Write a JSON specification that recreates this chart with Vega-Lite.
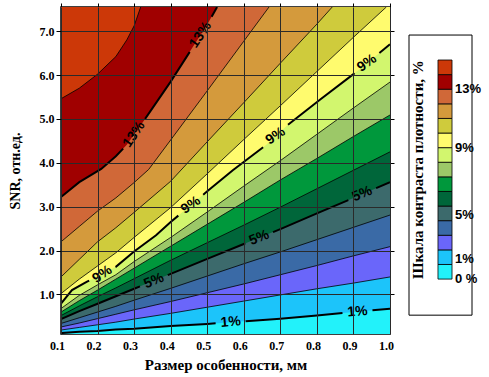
{
"$schema":"https://vega.github.io/schema/vega-lite/v6.json",
"padding":{"left":7,"top":1,"right":0,"bottom":0},
"background":"white",
"spacing":12,
"datasets":{
"contours":[
{"level":0,"x":0.1,"y":0.1},{"level":0,"x":1.0,"y":0.1},
{"level":1,"x":0.1,"y":0.12},{"level":1,"x":0.15,"y":0.15},{"level":1,"x":0.2,"y":0.17},{"level":1,"x":0.25,"y":0.2},{"level":1,"x":0.3,"y":0.22},{"level":1,"x":0.4,"y":0.28},{"level":1,"x":0.5,"y":0.33},{"level":1,"x":0.6,"y":0.39},{"level":1,"x":0.7,"y":0.45},{"level":1,"x":0.8,"y":0.52},{"level":1,"x":0.9,"y":0.6},{"level":1,"x":1.0,"y":0.675},
{"level":2,"x":0.1,"y":0.19},{"level":2,"x":0.15,"y":0.25},{"level":2,"x":0.2,"y":0.31},{"level":2,"x":0.25,"y":0.37},{"level":2,"x":0.3,"y":0.44},{"level":2,"x":0.4,"y":0.57},{"level":2,"x":0.5,"y":0.71},{"level":2,"x":0.6,"y":0.85},{"level":2,"x":0.7,"y":0.99},{"level":2,"x":0.8,"y":1.13},{"level":2,"x":0.9,"y":1.26},{"level":2,"x":1.0,"y":1.4},
{"level":3,"x":0.1,"y":0.26},{"level":3,"x":0.15,"y":0.35},{"level":3,"x":0.2,"y":0.45},{"level":3,"x":0.25,"y":0.55},{"level":3,"x":0.3,"y":0.65},{"level":3,"x":0.4,"y":0.84},{"level":3,"x":0.5,"y":1.04},{"level":3,"x":0.6,"y":1.24},{"level":3,"x":0.7,"y":1.45},{"level":3,"x":0.8,"y":1.66},{"level":3,"x":0.9,"y":1.88},{"level":3,"x":1.0,"y":2.09},
{"level":4,"x":0.1,"y":0.34},{"level":4,"x":0.15,"y":0.47},{"level":4,"x":0.2,"y":0.6},{"level":4,"x":0.25,"y":0.73},{"level":4,"x":0.3,"y":0.87},{"level":4,"x":0.4,"y":1.14},{"level":4,"x":0.5,"y":1.42},{"level":4,"x":0.6,"y":1.7},{"level":4,"x":0.7,"y":1.97},{"level":4,"x":0.8,"y":2.25},{"level":4,"x":0.9,"y":2.53},{"level":4,"x":1.0,"y":2.81},
{"level":5,"x":0.1,"y":0.44},{"level":5,"x":0.15,"y":0.62},{"level":5,"x":0.2,"y":0.79},{"level":5,"x":0.25,"y":0.96},{"level":5,"x":0.3,"y":1.13},{"level":5,"x":0.4,"y":1.47},{"level":5,"x":0.5,"y":1.81},{"level":5,"x":0.6,"y":2.15},{"level":5,"x":0.7,"y":2.49},{"level":5,"x":0.8,"y":2.85},{"level":5,"x":0.9,"y":3.2},{"level":5,"x":1.0,"y":3.56},
{"level":6,"x":0.1,"y":0.52},{"level":6,"x":0.15,"y":0.74},{"level":6,"x":0.2,"y":0.95},{"level":6,"x":0.25,"y":1.15},{"level":6,"x":0.3,"y":1.36},{"level":6,"x":0.4,"y":1.78},{"level":6,"x":0.5,"y":2.18},{"level":6,"x":0.6,"y":2.58},{"level":6,"x":0.7,"y":2.99},{"level":6,"x":0.8,"y":3.41},{"level":6,"x":0.9,"y":3.83},{"level":6,"x":1.0,"y":4.25},
{"level":7,"x":0.1,"y":0.6},{"level":7,"x":0.15,"y":0.86},{"level":7,"x":0.2,"y":1.1},{"level":7,"x":0.25,"y":1.35},{"level":7,"x":0.3,"y":1.6},{"level":7,"x":0.4,"y":2.1},{"level":7,"x":0.5,"y":2.6},{"level":7,"x":0.6,"y":3.1},{"level":7,"x":0.7,"y":3.61},{"level":7,"x":0.8,"y":4.1},{"level":7,"x":0.9,"y":4.6},{"level":7,"x":1.0,"y":5.09},
{"level":8,"x":0.1,"y":0.68},{"level":8,"x":0.15,"y":0.98},{"level":8,"x":0.2,"y":1.22},{"level":8,"x":0.25,"y":1.45},{"level":8,"x":0.3,"y":1.75},{"level":8,"x":0.4,"y":2.3},{"level":8,"x":0.5,"y":2.88},{"level":8,"x":0.6,"y":3.47},{"level":8,"x":0.7,"y":4.05},{"level":8,"x":0.8,"y":4.65},{"level":8,"x":0.9,"y":5.25},{"level":8,"x":1.0,"y":5.84},
{"level":9,"x":0.1,"y":0.79},{"level":9,"x":0.13,"y":1.1},{"level":9,"x":0.17,"y":1.29},{"level":9,"x":0.21,"y":1.45},{"level":9,"x":0.25,"y":1.63},{"level":9,"x":0.3,"y":1.98},{"level":9,"x":0.36,"y":2.35},{"level":9,"x":0.4,"y":2.65},{"level":9,"x":0.5,"y":3.35},{"level":9,"x":0.57,"y":3.83},{"level":9,"x":0.66,"y":4.4},{"level":9,"x":0.72,"y":4.86},{"level":9,"x":0.81,"y":5.45},{"level":9,"x":0.9,"y":6.02},{"level":9,"x":1.0,"y":6.7},
{"level":10,"x":0.1,"y":1.02},{"level":10,"x":0.15,"y":1.35},{"level":10,"x":0.2,"y":1.65},{"level":10,"x":0.25,"y":1.95},{"level":10,"x":0.3,"y":2.3},{"level":10,"x":0.4,"y":2.98},{"level":10,"x":0.5,"y":3.75},{"level":10,"x":0.6,"y":4.53},{"level":10,"x":0.7,"y":5.3},{"level":10,"x":0.8,"y":6.08},{"level":10,"x":0.9,"y":6.86},{"level":10,"x":0.99,"y":7.55},
{"level":11,"x":0.1,"y":1.4},{"level":11,"x":0.15,"y":1.8},{"level":11,"x":0.2,"y":2.2},{"level":11,"x":0.25,"y":2.52},{"level":11,"x":0.3,"y":2.87},{"level":11,"x":0.4,"y":3.58},{"level":11,"x":0.5,"y":4.48},{"level":11,"x":0.6,"y":5.37},{"level":11,"x":0.7,"y":6.27},{"level":11,"x":0.8,"y":7.16},{"level":11,"x":0.842,"y":7.55},
{"level":12,"x":0.1,"y":2.2},{"level":12,"x":0.15,"y":2.55},{"level":12,"x":0.2,"y":2.9},{"level":12,"x":0.25,"y":3.2},{"level":12,"x":0.3,"y":3.55},{"level":12,"x":0.34,"y":3.85},{"level":12,"x":0.4,"y":4.52},{"level":12,"x":0.5,"y":5.64},{"level":12,"x":0.6,"y":6.77},{"level":12,"x":0.669,"y":7.55},
{"level":13,"x":0.1,"y":3.22},{"level":13,"x":0.15,"y":3.56},{"level":13,"x":0.21,"y":3.86},{"level":13,"x":0.25,"y":4.15},{"level":13,"x":0.28,"y":4.41},{"level":13,"x":0.33,"y":5.0},{"level":13,"x":0.4,"y":5.85},{"level":13,"x":0.45,"y":6.5},{"level":13,"x":0.5,"y":7.15},{"level":13,"x":0.527,"y":7.55},
{"level":14,"x":0.1,"y":5.46},{"level":14,"x":0.15,"y":5.7},{"level":14,"x":0.2,"y":6.02},{"level":14,"x":0.25,"y":6.42},{"level":14,"x":0.28,"y":6.8},{"level":14,"x":0.3,"y":7.12},{"level":14,"x":0.318,"y":7.55}
],
"majors":[
{"level":1,"seg":1,"x":0.1,"y":0.12},{"level":1,"seg":1,"x":0.15,"y":0.15},{"level":1,"seg":1,"x":0.2,"y":0.17},{"level":1,"seg":1,"x":0.25,"y":0.2},{"level":1,"seg":1,"x":0.3,"y":0.22},{"level":1,"seg":1,"x":0.4,"y":0.28},{"level":1,"seg":1,"x":0.5,"y":0.33},{"level":1,"seg":1,"x":0.523,"y":0.344},
{"level":1,"seg":2,"x":0.605,"y":0.393},{"level":1,"seg":2,"x":0.7,"y":0.45},{"level":1,"seg":2,"x":0.8,"y":0.52},{"level":1,"seg":2,"x":0.87,"y":0.576},
{"level":1,"seg":3,"x":0.952,"y":0.639},{"level":1,"seg":3,"x":1.0,"y":0.675},
{"level":5,"seg":1,"x":0.1,"y":0.44},{"level":5,"seg":1,"x":0.15,"y":0.62},{"level":5,"seg":1,"x":0.2,"y":0.79},{"level":5,"seg":1,"x":0.25,"y":0.96},{"level":5,"seg":1,"x":0.3,"y":1.13},{"level":5,"seg":1,"x":0.316,"y":1.184},
{"level":5,"seg":2,"x":0.392,"y":1.443},{"level":5,"seg":2,"x":0.4,"y":1.47},{"level":5,"seg":2,"x":0.5,"y":1.81},{"level":5,"seg":2,"x":0.6,"y":2.15},{"level":5,"seg":2,"x":0.604,"y":2.164},
{"level":5,"seg":3,"x":0.68,"y":2.422},{"level":5,"seg":3,"x":0.7,"y":2.49},{"level":5,"seg":3,"x":0.8,"y":2.85},{"level":5,"seg":3,"x":0.886,"y":3.151},
{"level":5,"seg":4,"x":0.962,"y":3.423},{"level":5,"seg":4,"x":1.0,"y":3.56},
{"level":9,"seg":1,"x":0.1,"y":0.79},{"level":9,"seg":1,"x":0.13,"y":1.1},{"level":9,"seg":1,"x":0.17,"y":1.29},{"level":9,"seg":1,"x":0.177,"y":1.318},
{"level":9,"seg":2,"x":0.249,"y":1.626},{"level":9,"seg":2,"x":0.25,"y":1.63},{"level":9,"seg":2,"x":0.3,"y":1.98},{"level":9,"seg":2,"x":0.36,"y":2.35},{"level":9,"seg":2,"x":0.4,"y":2.65},{"level":9,"seg":2,"x":0.421,"y":2.797},
{"level":9,"seg":3,"x":0.489,"y":3.273},{"level":9,"seg":3,"x":0.5,"y":3.35},{"level":9,"seg":3,"x":0.57,"y":3.83},{"level":9,"seg":3,"x":0.653,"y":4.356},
{"level":9,"seg":4,"x":0.721,"y":4.867},{"level":9,"seg":4,"x":0.81,"y":5.45},{"level":9,"seg":4,"x":0.9,"y":6.02},{"level":9,"seg":4,"x":0.903,"y":6.04},
{"level":9,"seg":5,"x":0.971,"y":6.503},{"level":9,"seg":5,"x":1.0,"y":6.7},
{"level":13,"seg":1,"x":0.1,"y":3.22},{"level":13,"seg":1,"x":0.15,"y":3.56},{"level":13,"seg":1,"x":0.21,"y":3.86},{"level":13,"seg":1,"x":0.25,"y":4.15},{"level":13,"seg":1,"x":0.27,"y":4.323},
{"level":13,"seg":2,"x":0.33,"y":5.0},{"level":13,"seg":2,"x":0.4,"y":5.85},{"level":13,"seg":2,"x":0.45,"y":6.5},{"level":13,"seg":2,"x":0.452,"y":6.526},
{"level":13,"seg":3,"x":0.512,"y":7.328},{"level":13,"seg":3,"x":0.527,"y":7.55}
],
"labels":[
{"text":"1%","level":1,"x":0.564,"y":0.37},{"text":"1%","level":1,"x":0.911,"y":0.608},
{"text":"5%","level":5,"x":0.354,"y":1.31},{"text":"5%","level":5,"x":0.642,"y":2.29},{"text":"5%","level":5,"x":0.924,"y":3.29},
{"text":"9%","level":9,"x":0.213,"y":1.46},{"text":"9%","level":9,"x":0.455,"y":3.035},{"text":"9%","level":9,"x":0.687,"y":4.61},{"text":"9%","level":9,"x":0.937,"y":6.27},
{"text":"13%","level":13,"x":0.3,"y":4.646},{"text":"13%","level":13,"x":0.482,"y":6.916}
],
"legend":[
{"level":0,"lo":0,"hi":1},{"level":1,"lo":1,"hi":2},{"level":2,"lo":2,"hi":3},{"level":3,"lo":3,"hi":4},{"level":4,"lo":4,"hi":5},{"level":5,"lo":5,"hi":6},{"level":6,"lo":6,"hi":7},{"level":7,"lo":7,"hi":8},{"level":8,"lo":8,"hi":9},{"level":9,"lo":9,"hi":10},{"level":10,"lo":10,"hi":11},{"level":11,"lo":11,"hi":12},{"level":12,"lo":12,"hi":13},{"level":13,"lo":13,"hi":14},{"level":14,"lo":14,"hi":15}
],
"legendLabels":[
{"label":"13%","pos":13},{"label":"9%","pos":9},{"label":"5%","pos":4.4},{"label":"1%","pos":1.4},{"label":"0 %","pos":0}
]
},
"hconcat":[
{
"width":329,"height":327,
"view":{"stroke":"#000","strokeWidth":1.5},
"resolve":{"axis":{"x":"independent","y":"independent"}},
"layer":[
{"data":{"name":"contours"},
 "mark":{"type":"area","clip":true},
 "encoding":{
  "x":{"field":"x","type":"quantitative","scale":{"domain":[0.1,1.0],"nice":false,"zero":false},
   "axis":{"orient":"bottom","values":[0.1,0.2,0.3,0.4,0.5,0.6,0.7,0.8,0.9,1.0],"format":".1f","grid":true,"gridColor":"#2a2a2a","gridWidth":1,"ticks":false,"domain":false,"labelFlush":false,"labelOffset":-4,"labelFont":"Liberation Serif","labelFontWeight":"bold","labelFontSize":12,"labelColor":"#000","labelPadding":6,"title":"Размер особенности, мм","titleFont":"Liberation Serif","titleFontWeight":"bold","titleFontSize":15,"titleColor":"#000","titlePadding":6,"zindex":1}},
  "y":{"field":"y","type":"quantitative","stack":null,"scale":{"domain":[0.1,7.55],"nice":false,"zero":false},
   "axis":{"orient":"left","values":[1,2,3,4,5,6,7],"format":".1f","grid":true,"gridColor":"#2a2a2a","gridWidth":1,"ticks":true,"tickSize":5,"tickColor":"#000","domain":false,"labelFlush":false,"labelFont":"Liberation Serif","labelFontWeight":"bold","labelFontSize":12,"labelColor":"#000","labelPadding":2,"title":"SNR, отн.ед.","titleFont":"Liberation Serif","titleFontWeight":"bold","titleFontSize":14,"titleColor":"#000","titlePadding":17,"zindex":1}},
  "y2":{"datum":7.55},
  "color":{"field":"level","type":"ordinal","scale":{"domain":[0,1,2,3,4,5,6,7,8,9,10,11,12,13,14],"range":["#22F2FA","#1CC4FA","#6A66FA","#3A6AA6","#3C6A6C","#00663A","#00983C","#9CC868","#D2F66E","#FFFB6E","#CFCB3C","#D49A3C","#D06838","#A00000","#CC3808"]},"legend":null}
 }},
{"data":{"name":"contours"},
 "transform":[{"filter":"datum.level != 0 && datum.level != 1 && datum.level != 5 && datum.level != 9 && datum.level != 13"}],
 "mark":{"type":"line","clip":true,"color":"#000","strokeWidth":0.8},
 "encoding":{
  "x":{"field":"x","type":"quantitative","scale":{"domain":[0.1,1.0],"nice":false,"zero":false},"axis":null},
  "y":{"field":"y","type":"quantitative","scale":{"domain":[0.1,7.55],"nice":false,"zero":false},"axis":null},
  "detail":{"field":"level","type":"nominal"}
 }},
{"data":{"name":"majors"},
 "mark":{"type":"line","clip":true,"color":"#000","strokeWidth":2},
 "encoding":{
  "x":{"field":"x","type":"quantitative","scale":{"domain":[0.1,1.0],"nice":false,"zero":false},
   "axis":{"orient":"top","values":[0.1,0.2,0.3,0.4,0.5,0.6,0.7,0.8,0.9,1.0],"labels":false,"ticks":true,"tickSize":4,"tickColor":"#000","domain":false,"grid":false,"title":null}},
  "y":{"field":"y","type":"quantitative","scale":{"domain":[0.1,7.55],"nice":false,"zero":false},
   "axis":{"orient":"right","values":[1,2,3,4,5,6,7],"labels":false,"ticks":true,"tickSize":4,"tickColor":"#000","domain":false,"grid":false,"title":null}},
  "detail":[{"field":"level","type":"nominal"},{"field":"seg","type":"nominal"}]
 }},
{"data":{"name":"labels"},"transform":[{"filter":"datum.level == 1"}],
 "mark":{"type":"text","angle":355,"align":"center","baseline":"middle","font":"Liberation Sans","fontWeight":"bold","fontSize":14,"color":"#000"},
 "encoding":{"x":{"field":"x","type":"quantitative","scale":{"domain":[0.1,1.0],"nice":false,"zero":false},"axis":null},"y":{"field":"y","type":"quantitative","scale":{"domain":[0.1,7.55],"nice":false,"zero":false},"axis":null},"text":{"field":"text"}}},
{"data":{"name":"labels"},"transform":[{"filter":"datum.level == 5"}],
 "mark":{"type":"text","angle":338,"align":"center","baseline":"middle","font":"Liberation Sans","fontWeight":"bold","fontSize":14,"color":"#000"},
 "encoding":{"x":{"field":"x","type":"quantitative","scale":{"domain":[0.1,1.0],"nice":false,"zero":false},"axis":null},"y":{"field":"y","type":"quantitative","scale":{"domain":[0.1,7.55],"nice":false,"zero":false},"axis":null},"text":{"field":"text"}}},
{"data":{"name":"labels"},"transform":[{"filter":"datum.level == 9"}],
 "mark":{"type":"text","angle":325,"align":"center","baseline":"middle","font":"Liberation Sans","fontWeight":"bold","fontSize":14,"color":"#000"},
 "encoding":{"x":{"field":"x","type":"quantitative","scale":{"domain":[0.1,1.0],"nice":false,"zero":false},"axis":null},"y":{"field":"y","type":"quantitative","scale":{"domain":[0.1,7.55],"nice":false,"zero":false},"axis":null},"text":{"field":"text"}}},
{"data":{"name":"labels"},"transform":[{"filter":"datum.level == 13"}],
 "mark":{"type":"text","angle":304,"align":"center","baseline":"middle","font":"Liberation Sans","fontWeight":"bold","fontSize":14,"color":"#000"},
 "encoding":{"x":{"field":"x","type":"quantitative","scale":{"domain":[0.1,1.0],"nice":false,"zero":false},"axis":null},"y":{"field":"y","type":"quantitative","scale":{"domain":[0.1,7.55],"nice":false,"zero":false},"axis":null},"text":{"field":"text"}}}
]
},
{
"width":63,"height":327,
"view":{"stroke":null},
"layer":[
{"data":{"values":[{}]},
 "mark":{"type":"rect","fill":"white","stroke":"#000","strokeWidth":1},
 "encoding":{
  "x":{"datum":0,"type":"quantitative","scale":{"domain":[0,1],"nice":false,"zero":false},"axis":null},
  "x2":{"datum":1},
  "y":{"datum":-2.47,"type":"quantitative","scale":{"domain":[-3.76,18.63],"nice":false,"zero":false},"axis":null},
  "y2":{"datum":16.71}
 }},
{"data":{"name":"legend"},
 "mark":{"type":"rect","stroke":"#000","strokeWidth":0.8},
 "encoding":{
  "x":{"datum":0.46,"type":"quantitative","scale":{"domain":[0,1],"nice":false,"zero":false},"axis":null},
  "x2":{"datum":0.683},
  "y":{"field":"lo","type":"quantitative","scale":{"domain":[-3.76,18.63],"nice":false,"zero":false},"axis":null},
  "y2":{"field":"hi"},
  "color":{"field":"level","type":"ordinal","scale":{"domain":[0,1,2,3,4,5,6,7,8,9,10,11,12,13,14],"range":["#22F2FA","#1CC4FA","#6A66FA","#3A6AA6","#3C6A6C","#00663A","#00983C","#9CC868","#D2F66E","#FFFB6E","#CFCB3C","#D49A3C","#D06838","#A00000","#CC3808"]},"legend":null}
 }},
{"data":{"name":"legendLabels"},
 "mark":{"type":"text","align":"left","baseline":"middle","font":"Liberation Sans","fontWeight":"bold","fontSize":13,"color":"#000"},
 "encoding":{
  "x":{"datum":0.73,"type":"quantitative","scale":{"domain":[0,1],"nice":false,"zero":false},"axis":null},
  "y":{"field":"pos","type":"quantitative","scale":{"domain":[-3.76,18.63],"nice":false,"zero":false},"axis":null},
  "text":{"field":"label"}
 }},
{"data":{"values":[{"title":"Шкала контраста плотности, %"}]},
 "mark":{"type":"text","angle":270,"align":"center","baseline":"middle","font":"Liberation Serif","fontWeight":"bold","fontSize":15,"color":"#000"},
 "encoding":{
  "x":{"datum":0.143,"type":"quantitative","scale":{"domain":[0,1],"nice":false,"zero":false},"axis":null},
  "y":{"datum":7.5,"type":"quantitative","scale":{"domain":[-3.76,18.63],"nice":false,"zero":false},"axis":null},
  "text":{"field":"title"}
 }}
]
}
]
}
